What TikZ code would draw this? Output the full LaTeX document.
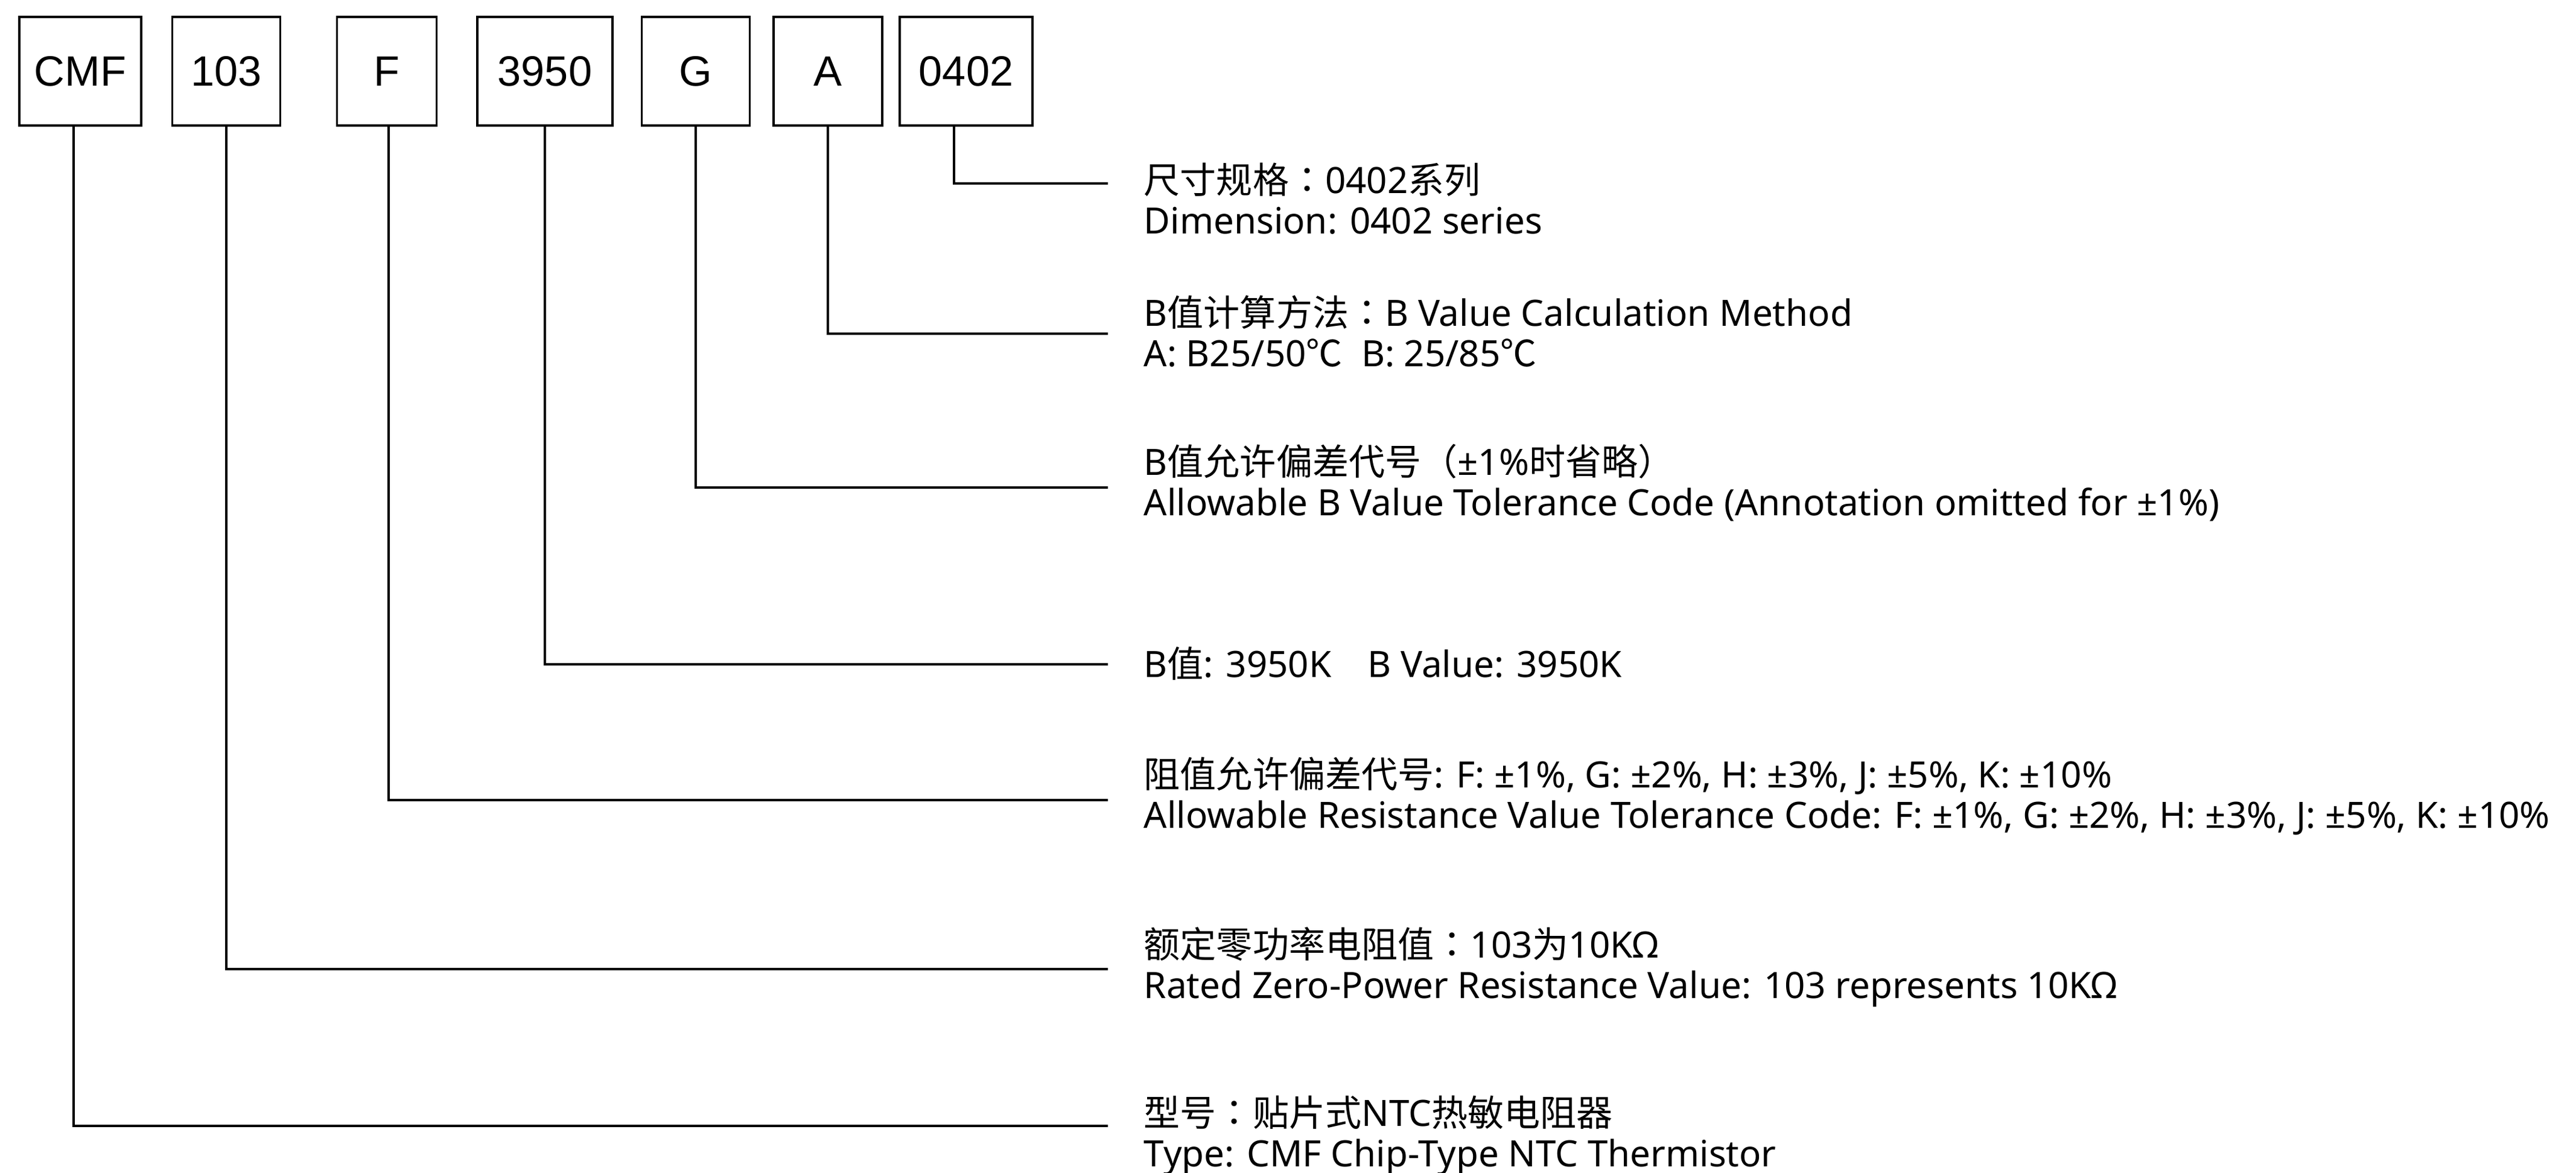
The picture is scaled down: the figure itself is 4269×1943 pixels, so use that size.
\documentclass[tikz,border=0pt]{standalone}
\usepackage{fontspec}
\setmainfont{Liberation Sans}
\newfontfamily\latn{Noto Sans}
\newfontfamily\cjk{Noto Sans CJK SC}
\newfontfamily\cjkp{Noto Sans CJK TC}
\newcommand{\zh}[1]{{\cjk #1}}
\newcommand{\zp}[1]{{\cjkp #1}}
\usepackage{tikz}
\usetikzlibrary{positioning}

\begin{document}
\begin{tikzpicture}[x=0.1mm,y=-0.1mm,
  code/.style={draw,line width=1pt,inner sep=0pt,minimum height=18mm,
    font=\fontsize{20}{24}\selectfont},
  lead/.style={line width=0.9pt},
  note/.style={anchor=west,align=left,inner sep=0pt,
    font=\latn\fontsize{17.1}{19}\selectfont}]
\useasboundingbox (0,0) rectangle (4269,1943);
% part number boxes
\node[code,minimum width=20.2mm] (cmf) at (133,118) {CMF};
\node[code,minimum width=17.9mm] (res) at (375,118) {103};
\node[code,minimum width=16.5mm] (tol) at (641,118) {F};
\node[code,minimum width=22.4mm] (bval) at (903,118) {3950};
\node[code,minimum width=17.9mm] (btol) at (1153,118) {G};
\node[code,minimum width=18mm] (bmeth) at (1372,118) {A};
\node[code,minimum width=22mm] (size) at (1601,118) {0402};
% explanations
\node[note] (t-size) at (1895,329) {\zh{尺寸规格}\zp{：}0402\zh{系列}\\Dimension: 0402 series};
\node[note] (t-bmeth) at (1895,549) {B\zh{值计算方法}\zp{：}B Value Calculation Method\\A: B25/50\zh{℃}\ \ B: 25/85\zh{℃}};
\node[note] (t-btol) at (1895,800) {B\zh{值允许偏差代号}\zp{（}±1\%\zh{时省略}\zp{）}\\Allowable B Value Tolerance Code (Annotation omitted for ±1\%)};
\node[note] (t-bval) at (1895,1100) {B\zh{值}: 3950K\quad B Value: 3950K};
\node[note] (t-tol) at (1895,1319) {\zh{阻值允许偏差代号}: F: ±1\%, G: ±2\%, H: ±3\%, J: ±5\%, K: ±10\%\\Allowable Resistance Value Tolerance Code: F: ±1\%, G: ±2\%, H: ±3\%, J: ±5\%, K: ±10\%};
\node[note] (t-res) at (1895,1603) {\zh{额定零功率电阻值}\zp{：}103\zh{为}10KΩ\\Rated Zero-Power Resistance Value: 103 represents 10KΩ};
\node[note] (t-cmf) at (1895,1882) {\zh{型号}\zp{：}\zh{贴片式}NTC\zh{热敏电阻器}\\Type: CMF Chip-Type NTC Thermistor};
% leader ends
\coordinate (e-size) at (1836,304);
\coordinate (e-bmeth) at (1836,553);
\coordinate (e-btol) at (1836,808);
\coordinate (e-bval) at (1836,1101);
\coordinate (e-tol) at (1836,1326);
\coordinate (e-res) at (1836,1606);
\coordinate (e-cmf) at (1836,1866);
% leaders
\draw[lead] ([xshift=-2mm]size.south) |- (e-size);
\draw[lead] (bmeth.south) |- (e-bmeth);
\draw[lead] (btol.south) |- (e-btol);
\draw[lead] (bval.south) |- (e-bval);
\draw[lead] ([xshift=0.3mm]tol.south) |- (e-tol);
\draw[lead] (res.south) |- (e-res);
\draw[lead] ([xshift=-1.1mm]cmf.south) |- (e-cmf);
\end{tikzpicture}
\end{document}
